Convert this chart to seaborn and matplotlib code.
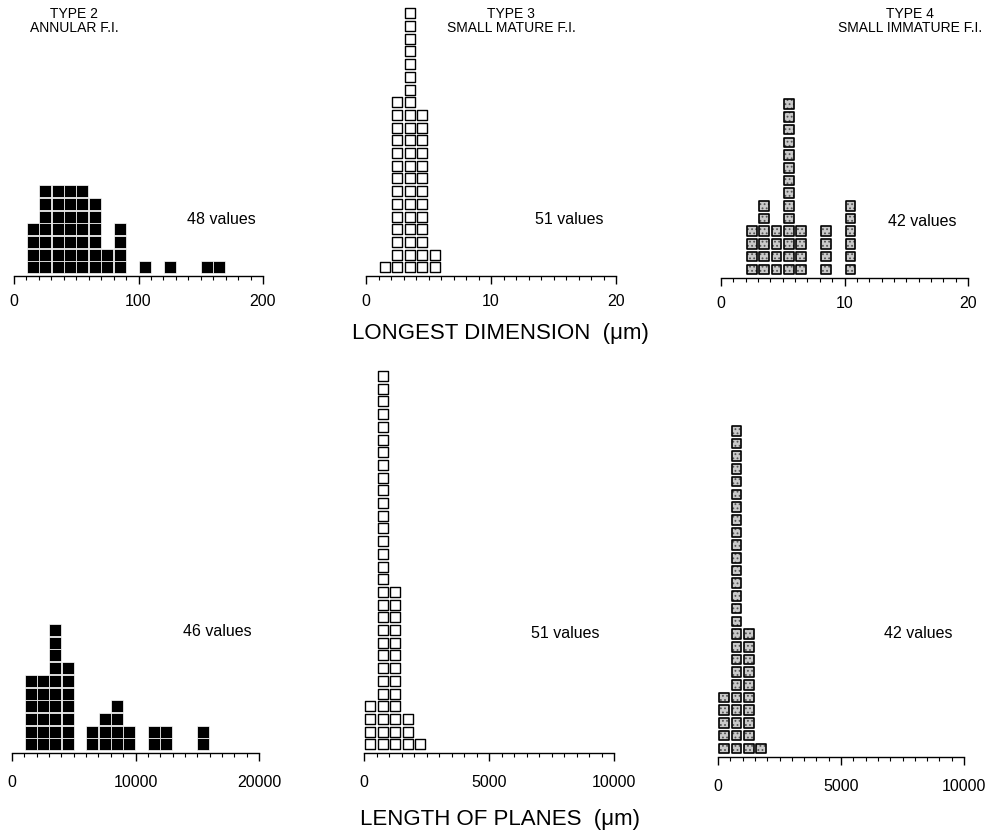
import numpy as np
import pandas as pd
import matplotlib
matplotlib.use("Agg")
import matplotlib.pyplot as plt
from matplotlib.ticker import MultipleLocator
import seaborn as sns

sns.set_theme(style="white")
plt.rcParams["font.family"] = ["Liberation Sans", "DejaVu Sans"]
plt.rcParams["text.color"] = "black"
plt.rcParams["xtick.color"] = "black"
plt.rcParams["hatch.linewidth"] = 0.8

# ---- counts per bin (left edge of bin, number of inclusions) ----
# Longest dimension (um)
t2_dim_bins = [10, 20, 30, 40, 50, 60, 70, 80, 100, 120, 150, 160]
t2_dim_counts = [4, 7, 7, 7, 7, 6, 2, 4, 1, 1, 1, 1]
t3_dim_bins = [1, 2, 3, 4, 5]
t3_dim_counts = [1, 14, 21, 13, 2]
t4_dim_bins = [2, 3, 4, 5, 6, 8, 10]
t4_dim_counts = [4, 6, 4, 14, 4, 4, 6]

# Length of planes (um)
t2_len_bins = [1000, 2000, 3000, 4000, 6000, 7000, 8000, 9000, 11000, 12000, 15000]
t2_len_counts = [6, 6, 10, 7, 2, 3, 4, 2, 2, 2, 2]
t3_len_bins = [0, 500, 1000, 1500, 2000]
t3_len_counts = [4, 30, 13, 3, 1]
t4_len_bins = [0, 500, 1000, 1500]
t4_len_counts = [5, 26, 10, 1]

n_labels = ["48 values", "51 values", "42 values", "46 values", "51 values", "42 values"]
titles = ["TYPE 2\nANNULAR F.I.", "TYPE 3\nSMALL MATURE F.I.", "TYPE 4\nSMALL IMMATURE F.I."]
xlabel_top = "LONGEST DIMENSION  (\u03bcm)"
xlabel_bottom = "LENGTH OF PLANES  (\u03bcm)"

W, H = 1001, 836
fig = plt.figure(figsize=(W / 100, H / 100), dpi=100)


def fx(x):
    return x / W


def fy(y):
    return 1 - y / H


PITCH = 12.7  # vertical spacing of stacked symbols, px

# each symbol style is a list of layers drawn on top of each other
styles = {
    "filled": [dict(color="black", edgecolor="white", s=64, linewidth=0.5)],
    "open": [dict(color="white", edgecolor="black", s=48, linewidth=1.0)],
    "grey": [
        dict(color="#c9c9c9", edgecolor="#555555", s=48, linewidth=0, hatch="...."),
        dict(facecolor="none", edgecolor="black", s=48, linewidth=1.2),
    ],
}


def stack_frame(bins, counts, width):
    rows = []
    for left, c in zip(bins, counts):
        for k in range(c):
            rows.append({"x": left + width / 2, "level": k + 0.68})
    return pd.DataFrame(rows)


def panel(x0, x1, y_axis, y_top, bins, counts, width, xmax, majors, style, label, lab_xy, pad):
    ax = fig.add_axes([fx(x0), fy(y_axis), (x1 - x0) / W, (y_axis - y_top) / H])
    df = stack_frame(bins, counts, width)
    for layer in styles[style]:
        sns.scatterplot(data=df, x="x", y="level", marker="s", ax=ax, legend=False,
                        clip_on=False, **layer)
    ax.set_xlim(0, xmax)
    ax.set_ylim(0, (y_axis - y_top) / PITCH)
    for side in ("left", "top", "right"):
        ax.spines[side].set_visible(False)
    ax.spines["bottom"].set_color("black")
    ax.spines["bottom"].set_linewidth(1.0)
    ax.set_yticks([])
    ax.set_xticks(majors)
    ax.set_xticklabels([f"{m:d}" for m in majors])
    ax.xaxis.set_minor_locator(MultipleLocator(width))
    ax.tick_params(axis="x", which="major", direction="out", length=6, width=1.0,
                   color="black", pad=pad, labelsize=11.5, labelcolor="black", bottom=True)
    ax.tick_params(axis="x", which="minor", direction="out", length=3, width=0.8,
                   color="black", bottom=True)
    ax.set_xlabel("")
    ax.set_ylabel("")
    ax.patch.set_alpha(0)
    fig.text(fx(lab_xy[0]), fy(lab_xy[1]), label, fontsize=11.5, ha="left", va="center")
    return ax


# top row: longest dimension
panel(14, 263, 276, 0, t2_dim_bins, t2_dim_counts, 10, 200, [0, 100, 200], "filled", n_labels[0], (187, 220), 7)
panel(366, 616, 276, 0, t3_dim_bins, t3_dim_counts, 1, 20, [0, 10, 20], "open", n_labels[1], (535, 220), 7)
panel(721, 968, 278, 0, t4_dim_bins, t4_dim_counts, 1, 20, [0, 10, 20], "grey", n_labels[2], (888, 222), 7)

# bottom row: length of planes
panel(12, 259, 753, 340, t2_len_bins, t2_len_counts, 1000, 20000, [0, 10000, 20000], "filled", n_labels[3], (183, 632), 10)
panel(364, 614, 753, 340, t3_len_bins, t3_len_counts, 500, 10000, [0, 5000, 10000], "open", n_labels[4], (531, 633), 10)
panel(718, 964, 757, 340, t4_len_bins, t4_len_counts, 500, 10000, [0, 5000, 10000], "grey", n_labels[5], (884, 633), 10)

# column titles
for (cx, txt) in zip([74, 511, 910], titles):
    fig.text(fx(cx), fy(7), txt, fontsize=10, ha="center", va="top", linespacing=1.0)

fig.text(fx(500), fy(333), xlabel_top, fontsize=16, ha="center", va="center")
fig.text(fx(500), fy(820), xlabel_bottom, fontsize=16, ha="center", va="center")

fig.savefig("out.png", dpi=100, facecolor="white")
